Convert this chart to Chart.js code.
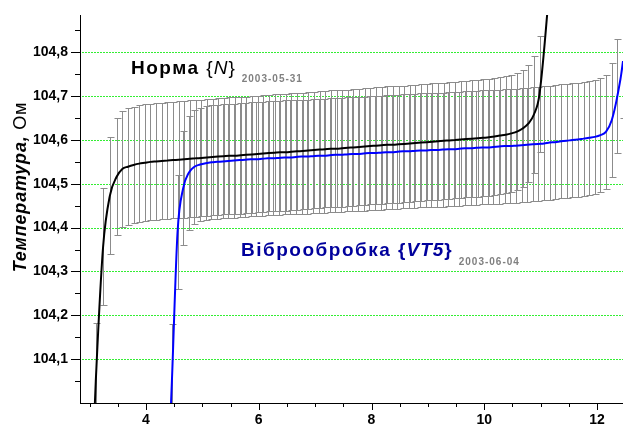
<!DOCTYPE html>
<html>
<head>
<meta charset="utf-8">
<script src="https://cdn.jsdelivr.net/npm/chart.js@4.4.0/dist/chart.umd.min.js"></script>
<style>
  html, body { margin: 0; padding: 0; background: #fff; }
  #wrap { width: 623px; height: 429px; }
</style>
</head>
<body>
<div id="wrap"><canvas id="c" width="623" height="429"></canvas></div>
<script>
// axis ranges and ticks
const xMin = 2.83, xMax = 12.46;
const yMin = 104.0, yMax = 104.885;
const xTickLabels = [4, 6, 8, 10, 12];
const xTickMarks = [3, 3.5, 4, 4.5, 5, 5.5, 6, 6.5, 7, 7.5, 8, 8.5, 9, 9.5, 10, 10.5, 11, 11.5, 12];
const yTickLabels = [104.1, 104.2, 104.3, 104.4, 104.5, 104.6, 104.7, 104.8];
const yTickMarks = [104.05, 104.1, 104.15, 104.2, 104.25, 104.3, 104.35, 104.4, 104.45, 104.5,
  104.55, 104.6, 104.65, 104.7, 104.75, 104.8, 104.85];

// "Норма {N}" 2003-05-31
const normaX = [3.0, 3.11, 3.24, 3.36, 3.48, 3.58, 3.68, 3.78, 3.88, 3.98,
  4.08, 4.18, 4.28, 4.38, 4.48, 4.58, 4.68, 4.78, 4.88, 4.98,
  5.08, 5.18, 5.28, 5.38, 5.48, 5.58, 5.68, 5.78, 5.88, 5.98,
  6.08, 6.18, 6.28, 6.38, 6.48, 6.58, 6.68, 6.78, 6.88, 6.98,
  7.08, 7.18, 7.28, 7.38, 7.48, 7.58, 7.68, 7.78, 7.88, 7.98,
  8.08, 8.18, 8.28, 8.38, 8.48, 8.58, 8.68, 8.78, 8.88, 8.98,
  9.08, 9.18, 9.28, 9.38, 9.48, 9.58, 9.68, 9.78, 9.88, 9.98,
  10.08, 10.18, 10.28, 10.38, 10.48, 10.58, 10.68, 10.78, 10.88, 10.98, 11.25];
const normaY = [103.70, 104.05, 104.357, 104.473, 104.516, 104.534, 104.539, 104.543, 104.546, 104.548,
  104.550, 104.551, 104.552, 104.553, 104.554, 104.555, 104.556, 104.557, 104.558, 104.559,
  104.560, 104.561, 104.562, 104.563, 104.564, 104.564, 104.565, 104.566, 104.567, 104.568,
  104.569, 104.570, 104.571, 104.572, 104.572, 104.573, 104.574, 104.575, 104.576, 104.577,
  104.578, 104.579, 104.580, 104.580, 104.581, 104.582, 104.583, 104.584, 104.585, 104.586,
  104.587, 104.588, 104.589, 104.589, 104.590, 104.591, 104.592, 104.593, 104.594, 104.595,
  104.596, 104.597, 104.598, 104.599, 104.600, 104.601, 104.602, 104.603, 104.604, 104.605,
  104.606, 104.608, 104.610, 104.612, 104.615, 104.619, 104.626, 104.637, 104.658, 104.705, 105.10];
const normaErr = 0.133;

// "Віброобробка {VT5}" 2003-06-04
const vibroX = [4.35, 4.46, 4.56, 4.66, 4.76, 4.86, 4.96, 5.06, 5.16, 5.26,
  5.36, 5.46, 5.56, 5.66, 5.76, 5.86, 5.96, 6.06, 6.16, 6.26,
  6.36, 6.46, 6.56, 6.66, 6.76, 6.86, 6.96, 7.06, 7.16, 7.26,
  7.36, 7.46, 7.56, 7.66, 7.76, 7.86, 7.96, 8.06, 8.16, 8.26,
  8.36, 8.46, 8.56, 8.66, 8.76, 8.86, 8.96, 9.06, 9.16, 9.26,
  9.36, 9.46, 9.56, 9.66, 9.76, 9.86, 9.96, 10.06, 10.16, 10.26,
  10.36, 10.46, 10.56, 10.66, 10.76, 10.86, 10.96, 11.06, 11.16, 11.26,
  11.36, 11.46, 11.56, 11.66, 11.76, 11.86, 11.96, 12.06, 12.16, 12.26,
  12.36, 12.46, 12.56];
const vibroY = [103.70, 104.05, 104.39, 104.49, 104.525, 104.539, 104.544, 104.547, 104.549, 104.550,
  104.551, 104.552, 104.553, 104.554, 104.555, 104.556, 104.556, 104.557, 104.558, 104.558,
  104.559, 104.560, 104.560, 104.561, 104.562, 104.562, 104.563, 104.564, 104.564, 104.565,
  104.566, 104.566, 104.567, 104.568, 104.568, 104.569, 104.570, 104.570, 104.571, 104.572,
  104.572, 104.573, 104.574, 104.574, 104.575, 104.576, 104.576, 104.577, 104.577, 104.578,
  104.579, 104.579, 104.580, 104.581, 104.581, 104.582, 104.583, 104.583, 104.584, 104.585,
  104.586, 104.586, 104.587, 104.588, 104.589, 104.590, 104.591, 104.592, 104.594, 104.595,
  104.597, 104.598, 104.600, 104.601, 104.603, 104.605, 104.607, 104.611, 104.619, 104.645,
  104.700, 104.780, 104.930];
const vibroErr = 0.13;

const FONT = "'Liberation Sans', Arial, sans-serif";

function pts(xs, ys) {
  return xs.map((x, i) => ({ x: x, y: ys[i] }));
}

// dotted green lines at the labelled y ticks, drawn as single pixels
const dotGrid = {
  id: 'dotGrid',
  beforeDatasetsDraw(chart) {
    const { ctx, chartArea: a } = chart;
    const ys = chart.scales.y;
    ctx.save();
    ctx.fillStyle = '#33ee33';
    yTickLabels.forEach(v => {
      const py = Math.round(ys.getPixelForValue(v));
      for (let px = Math.ceil(a.left) + 2; px < a.right; px += 3) {
        ctx.fillRect(px, py, 2, 1);
      }
    });
    ctx.restore();
  }
};

// grey error bars under the curves
const errorBars = {
  id: 'errorBars',
  beforeDatasetsDraw(chart) {
    const { ctx, chartArea: a } = chart;
    const xs = chart.scales.x, ys = chart.scales.y;
    ctx.save();
    ctx.beginPath();
    ctx.rect(a.left + 1, a.top, a.right - a.left, a.bottom - a.top);
    ctx.clip();
    ctx.strokeStyle = '#8c8c8c';
    ctx.lineWidth = 1;
    chart.data.datasets.forEach(ds => {
      ds.data.forEach(p => {
        const px = Math.round(xs.getPixelForValue(p.x)) + 0.5;
        const t = Math.round(ys.getPixelForValue(p.y + ds.err)) + 0.5;
        const b = Math.round(ys.getPixelForValue(p.y - ds.err)) + 0.5;
        ctx.beginPath();
        ctx.moveTo(px, t); ctx.lineTo(px, b);
        ctx.moveTo(px - 3, t); ctx.lineTo(px + 4, t);
        ctx.moveTo(px - 3, b); ctx.lineTo(px + 4, b);
        ctx.stroke();
      });
    });
    ctx.restore();
  }
};

// major + minor tick marks, outside the axes
const tickMarks = {
  id: 'tickMarks',
  afterDraw(chart) {
    const { ctx, chartArea: a } = chart;
    const xs = chart.scales.x, ys = chart.scales.y;
    ctx.save();
    ctx.strokeStyle = '#000';
    ctx.lineWidth = 1;
    ctx.beginPath();
    yTickMarks.forEach(v => {
      const py = Math.round(ys.getPixelForValue(v)) + 0.5;
      const len = yTickLabels.some(m => Math.abs(m - v) < 1e-6) ? 9 : 5;
      ctx.moveTo(a.left - len, py); ctx.lineTo(a.left, py);
    });
    xTickMarks.forEach(v => {
      const px = Math.round(xs.getPixelForValue(v)) + 0.5;
      const len = xTickLabels.includes(v) ? 7 : 4;
      ctx.moveTo(px, a.bottom); ctx.lineTo(px, a.bottom + len);
    });
    ctx.stroke();
    ctx.restore();
  }
};

function drawRuns(ctx, x, y, runs) {
  runs.forEach(r => {
    ctx.font = r.font;
    ctx.fillStyle = r.color;
    ctx.letterSpacing = r.sp || '0px';
    ctx.textBaseline = 'alphabetic';
    ctx.fillText(r.text, x, y + (r.dy || 0));
    x += ctx.measureText(r.text).width + (r.gap || 0);
  });
  return x;
}

// curve labels and the axis title
const labels = {
  id: 'labels',
  afterDraw(chart) {
    const ctx = chart.ctx;
    ctx.save();
    drawRuns(ctx, 131, 74, [
      { text: 'Норма ', font: 'bold 19px ' + FONT, color: '#000', sp: '1.5px' },
      { text: '{', font: '19px ' + FONT, color: '#000', sp: '1px' },
      { text: 'N', font: 'italic 19px ' + FONT, color: '#000', sp: '1px' },
      { text: '}', font: '19px ' + FONT, color: '#000', sp: '1px', gap: 6 },
      { text: '2003-05-31', font: 'bold 10px ' + FONT, color: '#808080', sp: '1px', dy: 8 }
    ]);
    drawRuns(ctx, 241, 256, [
      { text: 'Віброобробка ', font: 'bold 19px ' + FONT, color: '#00009c', sp: '1.5px' },
      { text: '{', font: 'bold 19px ' + FONT, color: '#00009c', sp: '1px' },
      { text: 'VT5', font: 'italic bold 19px ' + FONT, color: '#00009c', sp: '1px' },
      { text: '}', font: 'bold 19px ' + FONT, color: '#00009c', sp: '1px', gap: 6 },
      { text: '2003-06-04', font: 'bold 10px ' + FONT, color: '#808080', sp: '1px', dy: 9 }
    ]);
    // rotated y title
    const runs = [
      { text: 'Температура,', font: 'italic bold 18px ' + FONT, color: '#000', sp: '0.8px' },
      { text: ' Ом', font: '18px ' + FONT, color: '#000', sp: '0.8px' }
    ];
    let w = 0;
    runs.forEach(r => { ctx.font = r.font; ctx.letterSpacing = r.sp; w += ctx.measureText(r.text).width; });
    ctx.translate(26, 187);
    ctx.rotate(-Math.PI / 2);
    drawRuns(ctx, -w / 2, 0, runs);
    ctx.restore();
  }
};

new Chart(document.getElementById('c'), {
  type: 'scatter',
  data: {
    datasets: [
      {
        data: pts(normaX, normaY), err: normaErr,
        showLine: true, borderColor: '#000000', borderWidth: 2,
        pointRadius: 0, cubicInterpolationMode: 'monotone', clip: 0
      },
      {
        data: pts(vibroX, vibroY), err: vibroErr,
        showLine: true, borderColor: '#0000ff', borderWidth: 2,
        pointRadius: 0, cubicInterpolationMode: 'monotone', clip: 0
      }
    ]
  },
  options: {
    responsive: false,
    animation: false,
    events: [],
    layout: { padding: { top: 15, right: 0, bottom: 0, left: 0 } },
    plugins: { legend: { display: false }, tooltip: { enabled: false } },
    scales: {
      x: {
        type: 'linear', min: xMin, max: xMax,
        afterBuildTicks: s => { s.ticks = xTickLabels.map(v => ({ value: v })); },
        afterFit: s => { s.height = 26; s.paddingLeft = 0; s.paddingRight = 0; },
        grid: { display: false, drawTicks: false },
        border: { color: '#000', width: 1 },
        ticks: {
          color: '#000', padding: 9, maxRotation: 0, autoSkip: false,
          font: { family: FONT, size: 14, weight: 'bold' }
        }
      },
      y: {
        type: 'linear', min: yMin, max: yMax,
        afterBuildTicks: s => { s.ticks = yTickLabels.map(v => ({ value: v })); },
        afterFit: s => { s.width = 80; s.paddingTop = 0; s.paddingBottom = 0; },
        grid: { display: false, drawTicks: false },
        border: { color: '#000', width: 1 },
        ticks: {
          color: '#000', padding: 12, autoSkip: false,
          font: { family: FONT, size: 14, weight: 'bold' },
          callback: v => v.toFixed(1).replace('.', ',')
        }
      }
    }
  },
  plugins: [dotGrid, errorBars, tickMarks, labels]
});
</script>
</body>
</html>
